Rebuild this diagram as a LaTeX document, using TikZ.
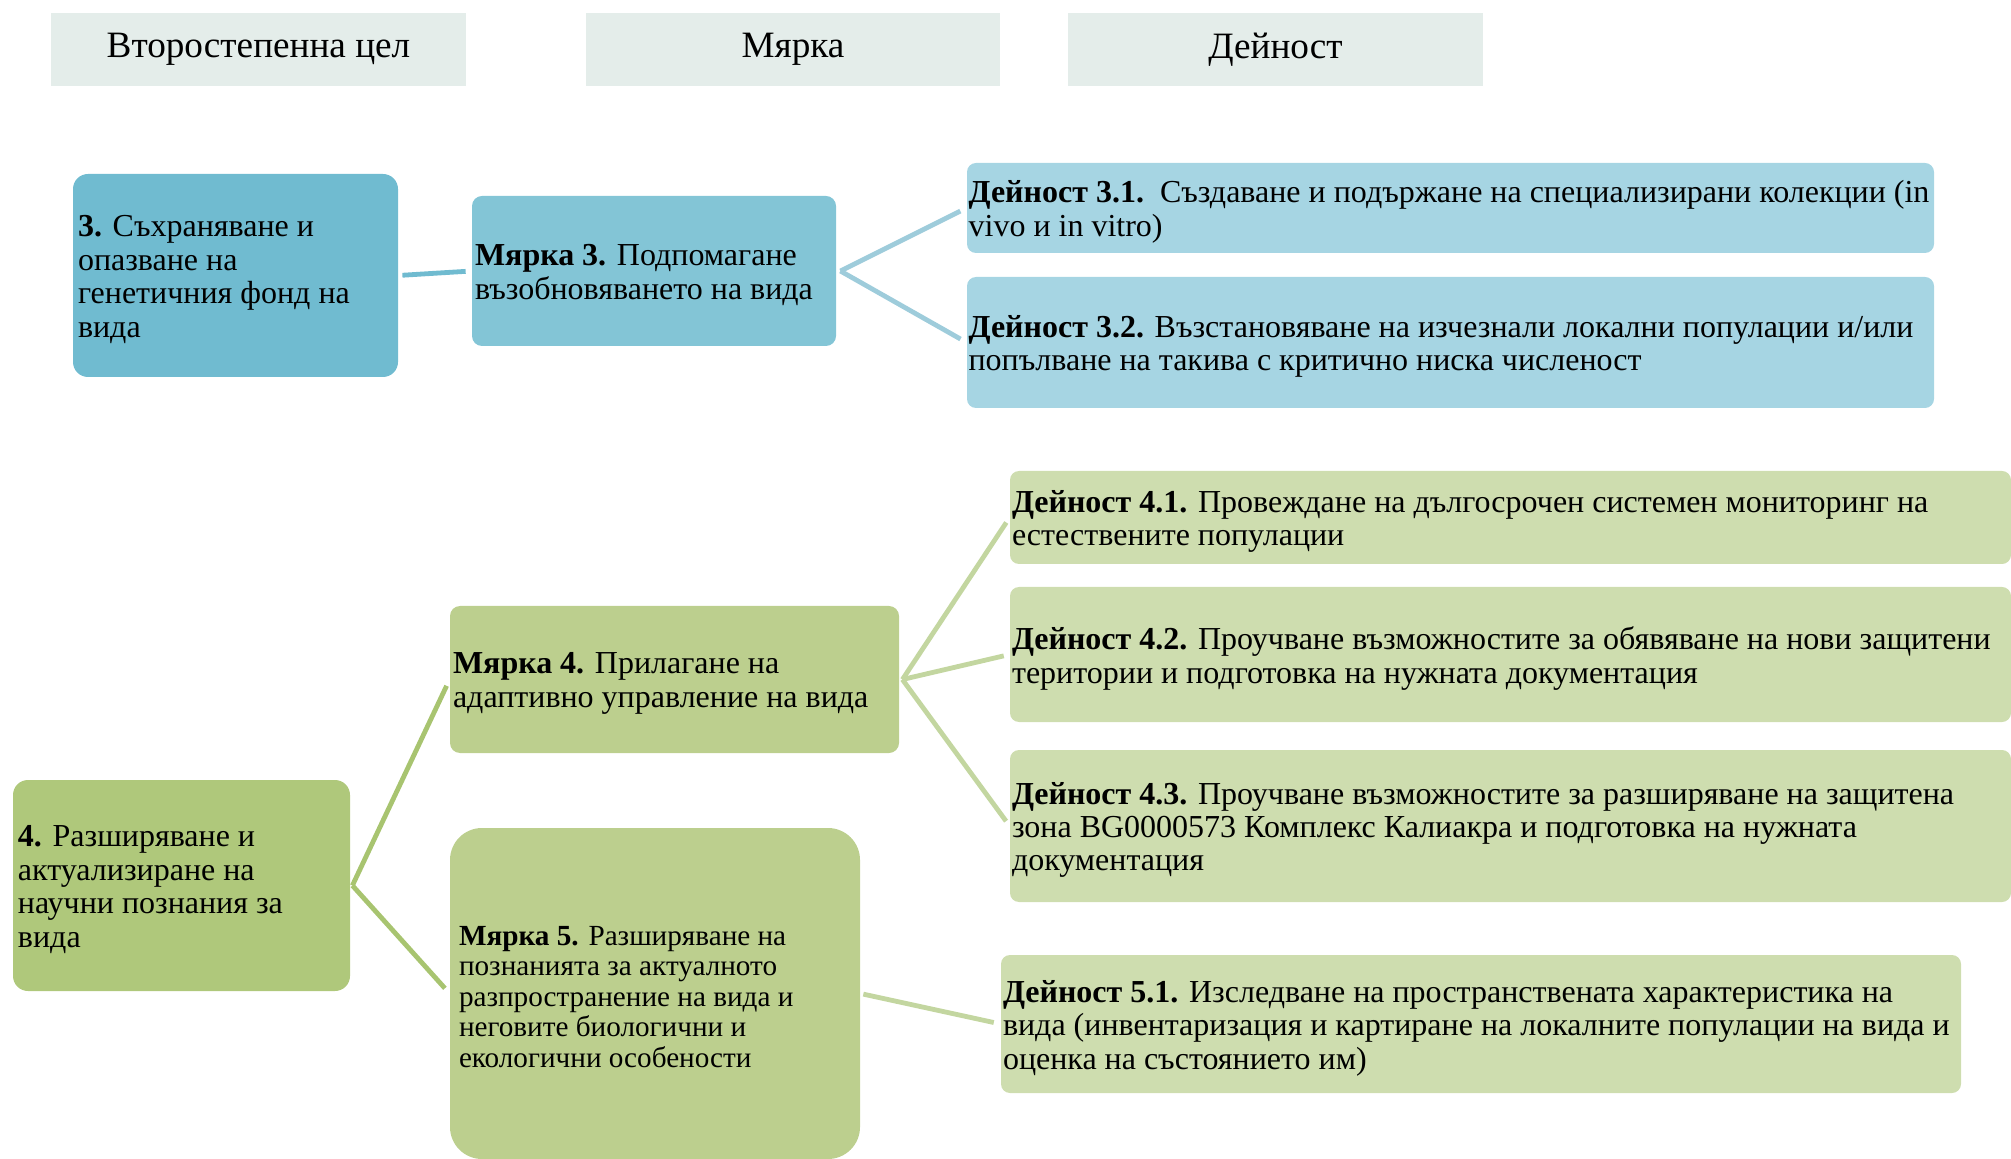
\documentclass[tikz,border=0pt]{standalone}
\usepackage{fontspec}
\setmainfont{Liberation Serif}
\definecolor{hdr}{RGB}{228,237,234}
\definecolor{gthree}{RGB}{112,187,208}
\definecolor{mthree}{RGB}{131,197,214}
\definecolor{athree}{RGB}{166,213,227}
\definecolor{lthree}{RGB}{112,187,208}
\definecolor{lthreea}{RGB}{158,204,219}
\definecolor{gfour}{RGB}{175,200,123}
\definecolor{mfour}{RGB}{188,207,142}
\definecolor{afour}{RGB}{206,221,175}
\definecolor{lfour}{RGB}{168,196,112}
\definecolor{lfoura}{RGB}{195,214,160}
\tikzset{
  hdrbox/.style={fill=hdr, draw=none, rectangle, inner sep=0pt, font=\fontsize{18.6}{21}\selectfont},
  boxbase/.style={draw=none, rectangle, inner sep=0pt},
  txt/.style={anchor=west, align=left, inner sep=0pt, font=\fontsize{16}{16.7}\selectfont},
  conn/.style={line width=2.4pt},
}
\begin{document}
\begin{tikzpicture}[x=0.5pt,y=-0.5pt]
\useasboundingbox (0,0) rectangle (2011,1159);
% headers
\node[hdrbox, minimum width=207.5pt, minimum height=36.5pt] (h1) at (258.5,49.5) {Второстепенна цел};
\node[hdrbox, minimum width=207pt, minimum height=36.5pt] (h2) at (793,49.5) {Мярка};
\node[hdrbox, minimum width=207.5pt, minimum height=36.5pt] (h3) at (1275.5,49.5) {Дейност};
% blue group
\node[boxbase, fill=gthree, rounded corners=7.5pt, minimum width=162.5pt, minimum height=101.5pt] (g3) at (235.5,275.5) {};
\node[boxbase, fill=mthree, rounded corners=5pt, minimum width=182pt, minimum height=75pt] (m3) at (654,271) {};
\node[boxbase, fill=athree, rounded corners=4.5pt, minimum width=483.5pt, minimum height=45pt] (a31) at (1450.5,208) {};
\node[boxbase, fill=athree, rounded corners=4.5pt, minimum width=483.5pt, minimum height=65.5pt] (a32) at (1450.5,342.5) {};
\node[txt] (g3t) at ([xshift=2.5pt,yshift=-2pt]g3.west) {\textbf{3.} Съхраняване и\\опазване на\\генетичния фонд на\\вида};
\node[txt] (m3t) at ([xshift=1.5pt,yshift=-2pt]m3.west) {\textbf{Мярка 3.} Подпомагане\\възобновяването на вида};
\node[txt] (a31t) at ([xshift=0.8pt,yshift=-2pt]a31.west) {\textbf{Дейност 3.1.}\ \ Създаване и подържане на специализирани колекции (in\\vivo и in vitro)};
\node[txt] (a32t) at ([xshift=0.8pt,yshift=-2pt]a32.west) {\textbf{Дейност 3.2.} Възстановяване на изчезнали локални популации и/или\\попълване на такива с критично ниска численост};
\draw[conn, lthree, shorten <=2pt, shorten >=3pt] (g3.east) -- (m3.west);
\draw[conn, lthreea, shorten >=3.5pt] ([xshift=2pt]m3.east) coordinate (f3) -- (a31.west);
\draw[conn, lthreea, shorten >=3.5pt] (f3) -- (a32.west);
% green group
\node[boxbase, fill=gfour, rounded corners=7.5pt, minimum width=168.5pt, minimum height=105.5pt] (g4) at (181.5,885.5) {};
\node[boxbase, fill=mfour, rounded corners=5pt, minimum width=224.5pt, minimum height=73.5pt] (m4) at (674.5,679.5) {};
\node[boxbase, fill=mfour, rounded corners=16pt, minimum width=205pt, minimum height=165.5pt] (m5) at (655,993.5) {};
\node[boxbase, fill=afour, rounded corners=4.5pt, minimum width=500.5pt, minimum height=46.5pt] (a41) at (1510.5,517.5) {};
\node[boxbase, fill=afour, rounded corners=4.5pt, minimum width=500.5pt, minimum height=67.5pt] (a42) at (1510.5,654.5) {};
\node[boxbase, fill=afour, rounded corners=4.5pt, minimum width=500.5pt, minimum height=76pt] (a43) at (1510.5,826) {};
\node[boxbase, fill=afour, rounded corners=4.5pt, minimum width=480pt, minimum height=69pt] (a51) at (1481,1024) {};
\node[txt] (g4t) at ([xshift=2.5pt,yshift=-2pt]g4.west) {\textbf{4.} Разширяване и\\актуализиране на\\научни познания за\\вида};
\node[txt] (m4t) at ([xshift=1.5pt,yshift=-2pt]m4.west) {\textbf{Мярка 4.} Прилагане на\\адаптивно управление на вида};
\node[txt, font=\fontsize{14.6}{15.25}\selectfont] (m5t) at ([xshift=4.5pt,yshift=-1.7pt]m5.west) {\textbf{Мярка 5.} Разширяване на\\познанията за актуалното\\разпространение на вида и\\неговите биологични и\\екологични особености};
\node[txt] (a41t) at ([xshift=1pt,yshift=-2pt]a41.west) {\textbf{Дейност 4.1.} Провеждане на дългосрочен системен мониторинг на\\естествените популации};
\node[txt] (a42t) at ([xshift=1pt,yshift=-2pt]a42.west) {\textbf{Дейност 4.2.} Проучване възможностите за обявяване на нови защитени\\територии и подготовка на нужната документация};
\node[txt] (a43t) at ([xshift=1pt,yshift=-2pt]a43.west) {\textbf{Дейност 4.3.} Проучване възможностите за разширяване на защитена\\зона BG0000573 Комплекс Калиакра и подготовка на нужната\\документация};
\node[txt] (a51t) at ([xshift=1pt,yshift=-2pt]a51.west) {\textbf{Дейност 5.1.} Изследване на пространствената характеристика на\\вида (инвентаризация и картиране на локалните популации на вида и\\оценка на състоянието им)};
\draw[conn, lfour, shorten >=3.5pt] ([xshift=1pt]g4.east) coordinate (f4) -- (m4.west);
\draw[conn, lfour, shorten >=3.5pt] (f4) -- (m5.west);
\draw[conn, lfoura, shorten >=3pt] ([xshift=1.5pt]m4.east) coordinate (f4a) -- (a41.west);
\draw[conn, lfoura, shorten >=3pt] (f4a) -- (a42.west);
\draw[conn, lfoura, shorten >=3pt] (f4a) -- (a43.west);
\draw[conn, lfoura, shorten <=1.5pt, shorten >=3.5pt] (m5.east) -- (a51.west);
\end{tikzpicture}
\end{document}
